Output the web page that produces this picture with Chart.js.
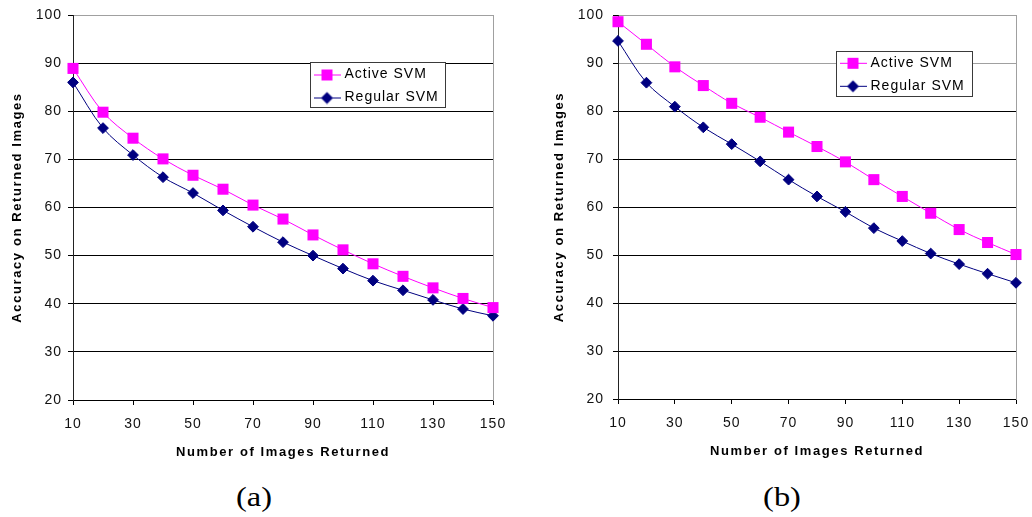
<!DOCTYPE html>
<html>
<head>
<meta charset="utf-8">
<script src="https://cdn.jsdelivr.net/npm/chart.js@4.4.1/dist/chart.umd.min.js"></script>
<style>
  html, body { margin: 0; padding: 0; background: #fff; width: 1032px; height: 517px; overflow: hidden; }
  canvas { position: absolute; top: 0; }
  #chartA { left: 0; }
  #chartB { left: 515px; }
  .cap {
    position: absolute; top: 481px; width: 80px; text-align: center;
    font-family: "Liberation Serif", "Times New Roman", serif;
    font-size: 27px; line-height: 32px; color: #000;
    transform: scaleX(1.2);
  }
</style>
</head>
<body>
<canvas id="chartA" width="510" height="470"></canvas>
<canvas id="chartB" width="517" height="470"></canvas>
<div class="cap" style="left:214px">(a)</div>
<div class="cap" style="left:742px">(b)</div>
<script>
// Number of images returned (x values)
const imagesReturned = [10, 20, 30, 40, 50, 60, 70, 80, 90, 100, 110, 120, 130, 140, 150];

// Panel (a): accuracy on returned images
const activeA  = [88.9, 79.8, 74.4, 70.1, 66.7, 63.8, 60.5, 57.6, 54.3, 51.2, 48.3, 45.7, 43.3, 41.1, 39.2];
const regularA = [86.0, 76.5, 70.9, 66.3, 63.0, 59.4, 56.0, 52.8, 50.0, 47.3, 44.8, 42.8, 40.8, 38.9, 37.5];

// Panel (b): accuracy on returned images
const activeB  = [98.6, 93.9, 89.2, 85.3, 81.6, 78.7, 75.6, 72.6, 69.4, 65.7, 62.2, 58.7, 55.3, 52.6, 50.1];
const regularB = [94.6, 85.9, 80.9, 76.6, 73.1, 69.5, 65.7, 62.2, 59.0, 55.6, 52.9, 50.3, 48.1, 46.1, 44.2];

const seriesNames = ['Active SVM', 'Regular SVM'];
const xTitle = 'Number of Images Returned';
const yTitle = 'Accuracy on Returned Images';

const FONT = '"Liberation Sans", Arial, Helvetica, sans-serif';
const ACTIVE_COLOR = '#FF00FF';
const REGULAR_COLOR = '#000080';

// Small legend symbols: a short line with the series marker in the middle
function legendSymbol(color, shape) {
  const c = document.createElement('canvas');
  c.width = 27; c.height = 14;
  const g = c.getContext('2d');
  g.strokeStyle = color; g.lineWidth = 1;
  g.beginPath(); g.moveTo(0, 7.5); g.lineTo(27, 7.5); g.stroke();
  g.fillStyle = color;
  if (shape === 'square') {
    g.fillRect(8, 2, 11, 11);
  } else {
    g.beginPath();
    g.moveTo(13.5, 1.5); g.lineTo(19.5, 7.5); g.lineTo(13.5, 13.5); g.lineTo(7.5, 7.5);
    g.closePath(); g.fill();
  }
  return c;
}
const symbols = [legendSymbol(ACTIVE_COLOR, 'square'), legendSymbol(REGULAR_COLOR, 'diamond')];

// Legend drawn on top of the plot inside a white framed box; letter spacing for texts
const chartDecor = {
  id: 'chartDecor',
  beforeLayout(chart) {
    const lg = chart.legend;
    if (lg && !lg._framed) {
      lg._layers = () => [{
        z: 1,
        draw: (area) => {
          const b = chart.options.plugins.chartDecor.box;
          const ctx = chart.ctx;
          ctx.save();
          ctx.fillStyle = '#fff';
          ctx.fillRect(b.x, b.y, b.w, b.h);
          ctx.strokeStyle = '#3a3a3a';
          ctx.lineWidth = 1;
          ctx.strokeRect(b.x + 0.5, b.y + 0.5, b.w - 1, b.h - 1);
          ctx.restore();
          lg.draw(area);
        }
      }];
      lg._framed = true;
    }
  },
  afterLayout(chart, args, opts) {
    const lg = chart.legend;
    const b = opts.box;
    lg.left = b.x - 2.5;
    lg.top = b.y + opts.rowOffset - 9;
    lg.right = b.x + b.w;
    lg.bottom = lg.top + 200;
  },
  beforeDraw(chart) {
    chart.ctx.letterSpacing = '1px';
    Object.values(chart.scales).forEach((s) => {
      if (s._spaced) return;
      const orig = s.drawTitle;
      s.drawTitle = function () {
        const prev = this.ctx.letterSpacing;
        this.ctx.letterSpacing = '1.6px';
        orig.call(this);
        this.ctx.letterSpacing = prev;
      };
      s._spaced = true;
    });
  }
};

function makeChart(canvasId, active, regular, L) {
  const pts = (vals) => imagesReturned.map((x, i) => ({ x, y: vals[i] }));
  return new Chart(document.getElementById(canvasId), {
    type: 'line',
    data: {
      datasets: [
        {
          label: seriesNames[0], data: pts(active),
          borderColor: ACTIVE_COLOR, backgroundColor: ACTIVE_COLOR, borderWidth: 1,
          pointStyle: 'rect', pointRadius: 7.8, pointBorderWidth: 0,
          pointBackgroundColor: ACTIVE_COLOR, tension: 0.33, clip: false
        },
        {
          label: seriesNames[1], data: pts(regular),
          borderColor: REGULAR_COLOR, backgroundColor: REGULAR_COLOR, borderWidth: 1,
          pointStyle: 'rectRot', pointRadius: 5.4, pointBorderWidth: 1,
          pointBackgroundColor: REGULAR_COLOR, pointBorderColor: REGULAR_COLOR,
          tension: 0.33, clip: false
        }
      ]
    },
    options: {
      responsive: false,
      animation: false,
      devicePixelRatio: 1,
      layout: { padding: { top: L.top, right: L.right, left: 0, bottom: 0 } },
      scales: {
        x: {
          type: 'linear', min: 10, max: 150,
          ticks: { stepSize: 20, padding: 11, maxRotation: 0, autoSkip: false, color: '#111', font: { family: FONT, size: 14 } },
          grid: { drawOnChartArea: false, drawTicks: true, tickLength: 5, tickColor: '#000', color: '#000' },
          border: { display: true, color: '#000', width: 1 },
          title: { display: true, text: xTitle, color: '#000', font: { family: FONT, size: 13, weight: 'bold' }, padding: { top: 0, bottom: L.xTitlePad } },
          afterFit: (s) => { s.height = L.xAxisHeight; s.paddingLeft = 0; s.paddingRight = 0; }
        },
        y: {
          type: 'linear', min: 20, max: 100,
          ticks: { stepSize: 10, padding: L.yTickPad, color: '#111', font: { family: FONT, size: 14 } },
          grid: {
            color: (c) => (L.softGrid.includes(c.tick.value) ? '#a0a0a0' : '#000'),
            tickColor: '#000', tickLength: 5, lineWidth: 1
          },
          border: { display: true, color: '#222', width: 1 },
          title: { display: true, text: yTitle, color: '#000', font: { family: FONT, size: 13, weight: 'bold' }, padding: { top: L.yTitlePad, bottom: 0 } },
          afterFit: (s) => { s.width = L.yAxisWidth; s.paddingTop = 0; s.paddingBottom = 0; }
        },
        frameRight: {
          type: 'linear', position: 'right', min: 20, max: 100, display: true,
          ticks: { display: false },
          grid: { display: false, drawTicks: false },
          border: { display: true, color: '#a0a0a0', width: 1 },
          afterFit: (s) => { s.width = 0; s.paddingTop = 0; s.paddingBottom = 0; }
        }
      },
      plugins: {
        tooltip: { enabled: false },
        legend: {
          display: true, position: 'chartArea', align: 'start',
          labels: {
            usePointStyle: true, pointStyleWidth: 21, padding: 9, color: '#000',
            font: { family: FONT, size: 14 },
            generateLabels: (chart) => chart.data.datasets.map((ds, i) => ({
              text: ds.label, pointStyle: symbols[i], fillStyle: ds.borderColor,
              strokeStyle: ds.borderColor, lineWidth: 0, hidden: false, datasetIndex: i, fontColor: '#000'
            }))
          }
        },
        chartDecor: { box: L.legendBox, rowOffset: L.rowOffset }
      }
    },
    plugins: [chartDecor]
  });
}

makeChart('chartA', activeA, regularA, {
  top: 15, right: 17, yAxisWidth: 73, xAxisHeight: 70,
  xTitlePad: 10, yTitlePad: 10, yTickPad: 6,
  softGrid: [100],
  legendBox: { x: 310, y: 62, w: 136, h: 46 }, rowOffset: 5.5
});

makeChart('chartB', activeB, regularB, {
  top: 15, right: 16, yAxisWidth: 103, xAxisHeight: 71,
  xTitlePad: 11, yTitlePad: 37, yTickPad: 9,
  softGrid: [100, 90],
  legendBox: { x: 321, y: 51, w: 137, h: 46 }, rowOffset: 4.8
});
</script>
</body>
</html>
